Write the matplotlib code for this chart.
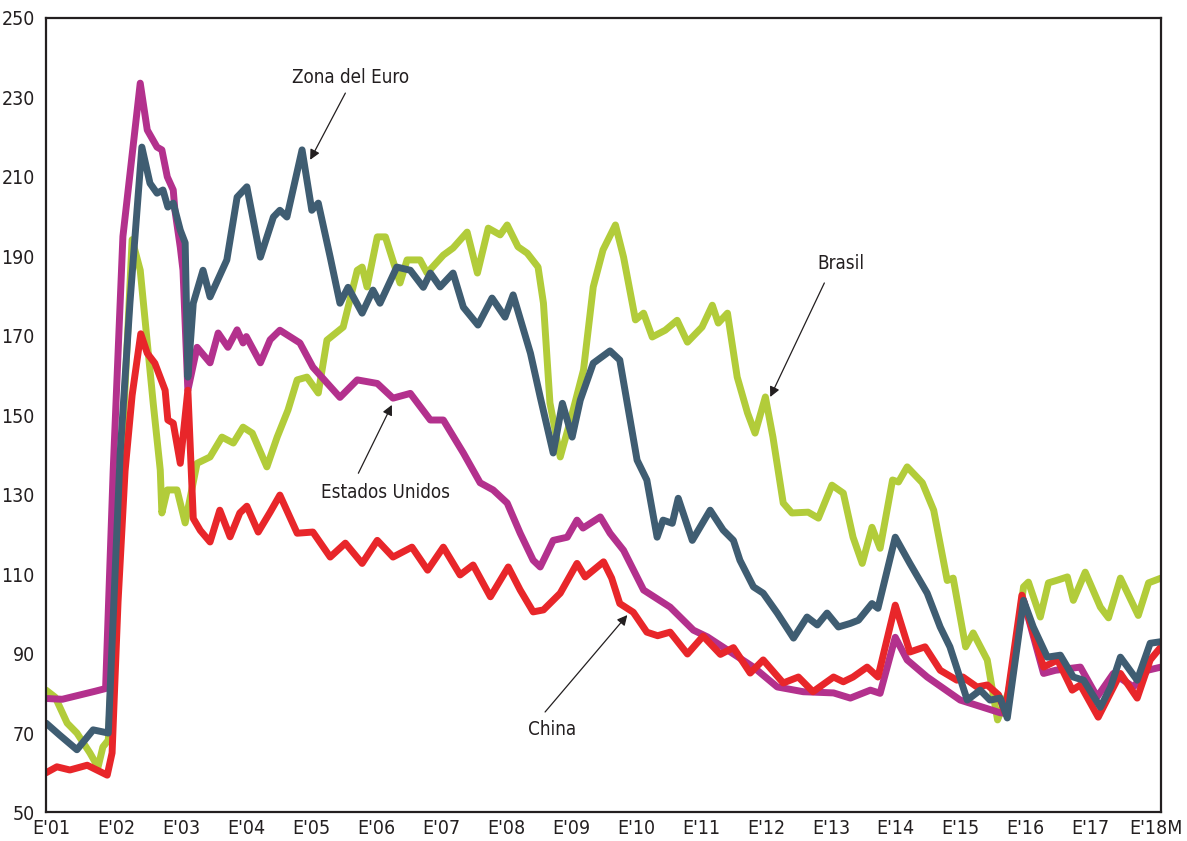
import matplotlib
matplotlib.use("Agg")
from matplotlib import pyplot as plt
from matplotlib import font_manager

# months since Jan 2001 (0) up to Mar 2018 (206)
eeuu_m = [0, 3, 6, 9, 11, 12.4, 14.2, 17.4, 18.7, 20.5, 21.4, 22.4, 23.5, 23.8, 24.8, 25.3, 26.2, 27.9,
          30.3, 31.8, 33.6, 35.3, 36.4, 37, 39.6, 41.4, 43.2, 46.9, 49.3, 54.3, 57.5, 61.2, 64.1, 67.3,
          71, 73.4, 77.1, 80.2, 82.6, 85.2, 87.6, 90, 91.3, 93.7, 96.3, 98.1, 99.2, 102.4, 104.2, 106.7,
          110.4, 115.3, 119.6, 122.2, 125.9, 130.7, 135.1, 139.9, 145.5, 148.6, 152.3, 154.1, 156.9,
          159.1, 162.8, 168.9, 176.3, 177.2, 180.6, 184.3, 186.5, 191.1, 194.2, 197.2, 200.9, 203.5, 206]
eeuu_v = [78.7, 78.5, 79.5, 80.5, 81.2, 136, 195, 233.6, 221.8, 217.5, 216.8, 210, 206.7, 201.7, 192.3,
          186.5, 156.3, 167.1, 163.2, 170.7, 167.1, 171.5, 168.2, 169.8, 163.2, 169, 171.4, 168.2, 162.1,
          154.5, 158.9, 158, 154.3, 155.5, 148.8, 148.8, 140.5, 133, 131.2, 127.9, 120.3, 113.5, 111.8,
          118.5, 119.3, 123.6, 121.6, 124.4, 120.3, 116, 106, 101.7, 95.9, 94.2, 90.9, 86.6, 81.6, 80.4,
          80.1, 78.8, 80.8, 80, 94.1, 88.4, 84.1, 78.3, 75.1, 75, 103.4, 85, 85.8, 86.6, 79.1, 85, 81.6,
          85.8, 86.6]

euro_m = [0, 2.5, 5.7, 8.7, 11.5, 13.7, 15.5, 17.7, 19.2, 20.5, 21.6, 22.5, 23.5, 24.8, 25.7, 26.2,
          27.2, 29, 30.3, 33.4, 35.3, 37.1, 39.6, 42, 43.2, 44.5, 47.3, 49.1, 50.3, 52.5, 54.3, 55.8,
          58.4, 60.4, 61.7, 64.8, 67.3, 69.7, 71, 72.8, 75.2, 77.1, 79.8, 82.4, 84.8, 86.3, 89.5, 91.3,
          93.7, 95.4, 97.2, 98.7, 101.1, 104.2, 106, 109.2, 111, 112.9, 114, 115.7, 116.8, 119.4, 122.7,
          125.1, 127, 128.2, 130.7, 132.5, 135.1, 138.1, 140.6, 142.5, 144.3, 146.4, 148.6, 150.1, 152.6,
          153.7, 156.9, 159.6, 162.8, 165.2, 167, 170.2, 172.6, 174.4, 176.3, 177.6, 180.6, 182.4, 185,
          187.4, 189.8, 191.7, 194.8, 196.7, 198.5, 201.6, 204, 206]
euro_v = [72.5, 69.5, 65.8, 70.8, 70, 140.5, 178.3, 217.5, 208.4, 205.9, 206.7, 202.4, 203.4, 196.6,
          193.4, 159.6, 178.2, 186.5, 179.8, 189.1, 204.9, 207.5, 189.8, 199.9, 201.6, 199.9, 216.8, 201.6,
          203.4, 189.8, 178.2, 182.2, 175.7, 181.5, 178.2, 187.3, 186.5, 182.2, 185.8, 182.3, 185.8, 177.2,
          172.7, 179.5, 174.7, 180.3, 165.6, 154.6, 140.5, 153, 144.5, 153.8, 163.1, 166.2, 163.9, 138.7,
          133.7, 119.3, 123.6, 122.8, 129.1, 118.5, 126.1, 121.1, 118.5, 113.5, 106.8, 105.2, 100.2, 93.9,
          99.2, 97.2, 100.2, 96.7, 97.6, 98.4, 102.6, 101.4, 119.3, 112.7, 105.2, 96.7, 91.7, 78.3, 80.8,
          78.3, 78.8, 73.8, 103.4, 96.7, 89.1, 89.6, 84.1, 83.3, 76.5, 81.6, 89.1, 83.3, 92.6, 93]

brasil_m = [0, 1.7, 3.9, 5.7, 8.1, 9.6, 10.5, 11.5, 15.9, 17.4, 18.6, 19.8, 21.1, 21.4, 22.4, 24.2, 25.7,
            27.9, 30.3, 32.5, 34.6, 36.4, 38.1, 40.8, 42.7, 44.7, 46.4, 48.2, 50.3, 51.9, 54.9, 57.5, 58.4,
            59.3, 61.2, 62.7, 65.4, 66.7, 69.1, 70.4, 73.4, 75.2, 77.8, 79.7, 81.7, 83.9, 85.2, 87.2, 88.9,
            90.9, 91.9, 93.1, 95, 96.9, 99.3, 101.1, 102.9, 105.2, 106.7, 108.9, 110.4, 112, 114.4, 116.6,
            118.5, 121.2, 123.1, 124.2, 125.9, 127.7, 129.6, 131, 132.9, 134.3, 136.2, 137.8, 140.8, 142.7,
            145.2, 147.3, 149.1, 150.8, 152.6, 154.1, 156.4, 157.5, 159.1, 161.9, 164, 166.5, 167.6, 169.9,
            171.3, 173.9, 175.8, 178.2, 180.6, 181.5, 183.7, 185.2, 186.9, 188.7, 189.8, 192, 194.8, 196.3,
            198.5, 201.8, 203.7, 206]
brasil_v = [80.8, 79, 72.5, 70, 65, 61.4, 66.5, 68.2, 194.2, 186.5, 169.7, 153, 136.2, 125.4, 131.2,
            131.2, 122.9, 137.9, 139.5, 144.5, 143, 147, 145.5, 137, 144.5, 151.3, 158.9, 159.6, 155.6,
            168.9, 172.2, 186.5, 187.3, 182.3, 194.9, 194.9, 183.3, 189.1, 189.1, 185.8, 190.3, 192.1,
            196.1, 185.8, 197.1, 195.4, 197.9, 192.4, 190.8, 187.3, 178.2, 153.1, 139.5, 148.8, 161.4,
            182.3, 191.6, 197.9, 189.8, 174, 175.7, 169.7, 171.4, 173.9, 168.4, 172.2, 177.7, 173.2, 175.7,
            159.6, 150.6, 145.5, 154.6, 144.5, 127.9, 125.4, 125.6, 124.1, 132.4, 130.4, 119.3, 112.7,
            121.8, 116.5, 133.7, 133.2, 137, 133, 126.1, 108.4, 109, 91.7, 95.2, 88.4, 73.3, 81.6, 106.8,
            108, 99.2, 107.8, 108.5, 109.3, 103.4, 110.5, 101.7, 99, 109, 99.6, 107.8, 109]

china_m = [0, 2, 4.4, 7.6, 11.3, 12.2, 13.3, 14.6, 15.9, 17.5, 18.7, 20.1, 22, 22.5, 23.5, 24.8, 26.2,
           27.2, 28.5, 30.3, 32.1, 34, 35.8, 37.1, 39.2, 41.4, 43.2, 46.4, 49.3, 52.5, 55.3, 58.4, 61.2,
           64.1, 67.6, 70.5, 73.4, 76.5, 78.9, 82.1, 85.4, 87.6, 90, 91.9, 95, 98.1, 99.6, 103, 104.5, 106,
           108.5, 111, 113, 115.3, 118.5, 121.4, 124.6, 127, 130.1, 132.5, 136.2, 139, 141.7, 145.5, 147.3,
           149.1, 151.7, 153.7, 156.9, 159.6, 162.4, 165.2, 168.3, 169.4, 172, 173.9, 176, 177.2, 180.3,
           184.3, 186.9, 189.6, 191.1, 194.4, 198.5, 201.6, 204, 206]
china_v = [60, 61.5, 60.7, 61.9, 59.4, 65, 103, 136, 155, 170.5, 165.6, 163.1, 156.3, 148.8, 148, 137.9,
           156.3, 124, 121, 118.1, 126.1, 119.4, 125.4, 127.1, 120.6, 125.6, 129.9, 120.3, 120.6, 114.3,
           117.8, 112.7, 118.5, 114.3, 116.8, 111, 116.8, 109.8, 112.3, 104.3, 111.8, 106, 100.5, 101,
           105.2, 112.7, 109.3, 113.1, 109, 102.6, 100.4, 95.4, 94.5, 95.4, 89.9, 94.4, 89.8, 91.5, 85.1,
           88.4, 82.6, 84.1, 80.4, 84.1, 82.9, 84.1, 86.6, 84.1, 102.2, 90.4, 91.7, 85.8, 83.3, 84.1, 81.6,
           82.1, 79.6, 75, 104.7, 86.6, 88.4, 80.8, 82.1, 74, 85, 78.8, 88.4, 91.7]

year_labels = ["E'01", "E'02", "E'03", "E'04", "E'05", "E'06", "E'07", "E'08", "E'09",
               "E'10", "E'11", "E'12", "E'13", "E'14", "E'15", "E'16", "E'17", "E'18M"]
y_ticks = [50, 70, 90, 110, 130, 150, 170, 190, 210, 230, 250]

# the original uses a narrow sans; take a condensed face if one is installed
narrow = None
for f in font_manager.fontManager.ttflist:
    if f.style != 'normal' or f.weight not in (400, 'normal', 'regular'):
        continue
    if 'Narrow' in f.name or 'Condensed' in f.name or f.stretch in ('condensed', 'semi-condensed'):
        narrow = f
        break

if narrow is not None:
    plt.rcParams['font.family'] = [narrow.name, 'DejaVu Sans']
    plt.rcParams['font.stretch'] = narrow.stretch
    tick_size, note_size = 14, 13.5
else:
    plt.rcParams['font.family'] = ['Liberation Sans', 'DejaVu Sans']
    tick_size, note_size = 13, 12.5
ink = '#231f20'

fig = plt.figure(figsize=(11.87, 8.41), dpi=100)
ax = fig.add_axes([0.0388, 0.0339, 0.9393, 0.9447])

lw = 5
ax.plot(brasil_m, brasil_v, color='#b2cc3a', lw=lw, solid_joinstyle='round', solid_capstyle='round')
ax.plot(eeuu_m, eeuu_v, color='#b3318d', lw=lw, solid_joinstyle='round', solid_capstyle='round')
ax.plot(china_m, china_v, color='#e8262a', lw=lw, solid_joinstyle='round', solid_capstyle='round')
ax.plot(euro_m, euro_v, color='#3f5d72', lw=lw, solid_joinstyle='round', solid_capstyle='round')

ax.set_xlim(0, 206)
ax.set_ylim(50, 250)
ax.set_yticks(y_ticks)
ax.set_xticks([12 * i + 1 for i in range(len(year_labels))])
ax.set_xticklabels(year_labels)
ax.tick_params(axis='both', length=0, labelsize=tick_size, colors=ink)
ax.tick_params(axis='y', pad=8)
ax.tick_params(axis='x', pad=5)
for s in ax.spines.values():
    s.set_linewidth(1.6)
    s.set_color(ink)

arrow = dict(arrowstyle='-|>', color=ink, lw=0.9, mutation_scale=15, shrinkA=0, shrinkB=0)
ax.text(56.2, 235.1, 'Zona del Euro', ha='center', va='center', fontsize=note_size, color=ink)
ax.annotate('', xy=(48.8, 214.3), xytext=(55.3, 231.1), arrowprops=arrow)
ax.text(146.8, 188.3, 'Brasil', ha='center', va='center', fontsize=note_size, color=ink)
ax.annotate('', xy=(133.8, 154.6), xytext=(143.8, 183.3), arrowprops=arrow)
ax.text(62.7, 130.6, 'Estados Unidos', ha='center', va='center', fontsize=note_size, color=ink)
ax.annotate('', xy=(63.9, 152.6), xytext=(57.7, 135.4), arrowprops=arrow)
ax.text(93.5, 71.0, 'China', ha='center', va='center', fontsize=note_size, color=ink)
ax.annotate('', xy=(107.4, 99.7), xytext=(92.2, 75.3), arrowprops=arrow)

fig.savefig('out.png', dpi=100)
